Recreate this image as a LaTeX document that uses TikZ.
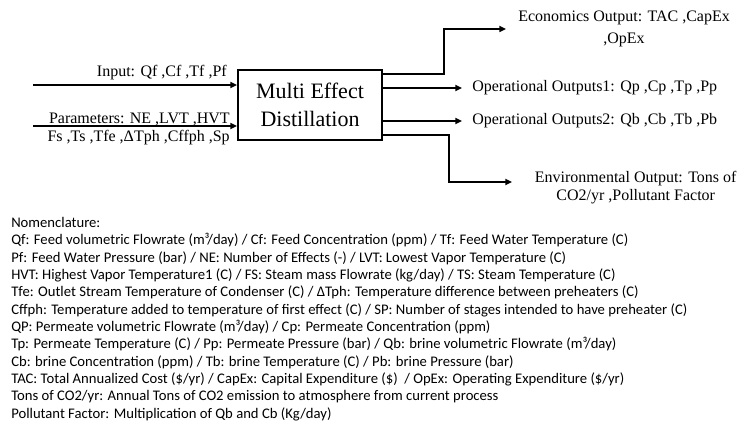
\documentclass[tikz,border=0pt]{standalone}
\usepackage{fontspec}
\setmainfont{Liberation Serif}
\newfontfamily\nomfont{Carlito}
\usepackage{tikz}
\usetikzlibrary{arrows.meta,positioning,calc}

\begin{document}
\begin{tikzpicture}[
    x=0.75pt, y=-0.75pt,
    font=\fontsize{12}{13}\selectfont,
    medbox/.style={rectangle, draw=black, line width=1.5pt, minimum width=108pt, minimum height=52.5pt, align=center, inner sep=0pt, font=\fontsize{16.5}{21}\selectfont},
    arrow/.style={-{Triangle[length=5pt,width=4.5pt]}, line width=1.2pt},
    outtext/.style={anchor=west, align=center, inner ysep=0pt},
]
\useasboundingbox (0,0) rectangle (742,423);

% Process block
\node[medbox] (med) at (310,105) {Multi Effect\\Distillation};

% Inputs
\coordinate (feedin) at (33,85);
\coordinate (parin) at (33,126);
\draw[arrow] (feedin) -- (med.west |- feedin);
\draw[arrow] (parin) -- (med.west |- parin);
\node[anchor=base east, inner sep=0pt] (feedlbl) at (227,77) {Input: Qf ,Cf ,Tf ,Pf};
\node[anchor=east, inner sep=0pt, align=right] (parlbl) at (230,129) {Parameters: NE ,LVT ,HVT\\Fs ,Ts ,Tfe ,ΔTph ,Cffph ,Sp};

% Outputs
\node[outtext, inner xsep=9pt, font=\fontsize{12}{16.5}\selectfont] (eco) at (506,29) {Economics Output: TAC ,CapEx\\,OpEx};
\node[outtext, inner xsep=7.5pt] (op1) at (462,88) {Operational Outputs1: Qp ,Cp ,Tp ,Pp};
\node[outtext, inner xsep=7.5pt] (op2) at (462,121) {Operational Outputs2: Qb ,Cb ,Tb ,Pb};
\node[outtext, inner xsep=17pt, font=\fontsize{12}{13.5}\selectfont] (env) at (512,188) {Environmental Output: Tons of\\CO2/yr ,Pollutant Factor};

\draw[arrow] ($(med.north east)+(0,5)$) -- ++(61,0) |- (eco.west);
\draw[arrow] (med.east |- op1.west) -- (op1.west);
\draw[arrow] (med.east |- op2.west) -- (op2.west);
\draw[arrow] ($(med.south east)+(0,-6)$) -- ++(66,0) |- ([yshift=4.5pt]env.west);

% Nomenclature
\node[anchor=north west, inner sep=0pt, align=left, font=\nomfont\fontsize{11}{13}\selectfont] (nomen) at (11,217) {%
Nomenclature:\\
Qf: Feed volumetric Flowrate (m³/day) / Cf: Feed Concentration (ppm) / Tf: Feed Water Temperature (C)\\
Pf: Feed Water Pressure (bar) / NE: Number of Effects (-) / LVT: Lowest Vapor Temperature (C)\\
HVT: Highest Vapor Temperature1 (C) / FS: Steam mass Flowrate (kg/day) / TS: Steam Temperature (C)\\
Tfe: Outlet Stream Temperature of Condenser (C) / ΔTph: Temperature difference between preheaters (C)\\
Cffph: Temperature added to temperature of first effect (C) / SP: Number of stages intended to have preheater (C)\\
QP: Permeate volumetric Flowrate (m³/day) / Cp: Permeate Concentration (ppm)\\
Tp: Permeate Temperature (C) / Pp: Permeate Pressure (bar) / Qb: brine volumetric Flowrate (m³/day)\\
Cb: brine Concentration (ppm) / Tb: brine Temperature (C) / Pb: brine Pressure (bar)\\
TAC: Total Annualized Cost (\$/yr) / CapEx: Capital Expenditure (\$) \ / OpEx: Operating Expenditure (\$/yr)\\
Tons of CO2/yr: Annual Tons of CO2 emission to atmosphere from current process\\
Pollutant Factor: Multiplication of Qb and Cb (Kg/day)};

\end{tikzpicture}
\end{document}
